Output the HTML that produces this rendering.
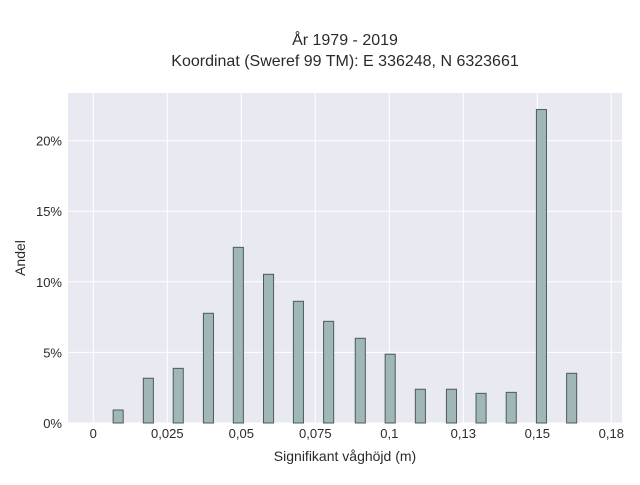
<!DOCTYPE html>
<html><head><meta charset="utf-8"><style>
body{margin:0;background:#fff;width:640px;height:480px;overflow:hidden}
svg text{font-family:"Liberation Sans",sans-serif;fill:#2a2a2a}
</style></head><body>
<svg id="chart" width="640" height="480" xmlns="http://www.w3.org/2000/svg">
<text x="345" y="45" text-anchor="middle" font-size="16">År 1979 - 2019</text>
<text x="345" y="66" text-anchor="middle" font-size="16">Koordinat (Sweref 99 TM): E 336248, N 6323661</text>
<rect x="68" y="93" width="554" height="330" fill="#e9e9f1"/>
<g id="grid"></g><g id="bars"></g><g id="ticks"></g>
<text x="345" y="461" text-anchor="middle" font-size="14">Signifikant våghöjd (m)</text>
<text x="25" y="258" text-anchor="middle" font-size="14" transform="rotate(-90 25 258)">Andel</text>
</svg>
<script>
const binCenters=[0.0084,0.0186,0.0287,0.0389,0.049,0.0592,0.0693,0.0795,0.0902,0.1003,0.1105,0.121,0.131,0.1412,0.1514,0.1616];
const shares=[0.92,3.17,3.87,7.77,12.44,10.53,8.62,7.2,6.0,4.87,2.39,2.39,2.1,2.17,22.2,3.52];
const xTickValues=[0,0.025,0.05,0.075,0.1,0.125,0.15,0.175];
const xTickLabels=["0","0,025","0,05","0,075","0,1","0,13","0,15","0,18"];
const yTickValues=[0,5,10,15,20];
const yTickLabels=["0%","5%","10%","15%","20%"];
const NS="http://www.w3.org/2000/svg";
const x=v=>93.3+v*2960;
const y=v=>423-v*14.12;
const barW=0.0034;
const grid=document.getElementById('grid'),bars=document.getElementById('bars'),ticks=document.getElementById('ticks');
function mk(tag,attrs,parent){const e=document.createElementNS(NS,tag);for(const k in attrs)e.setAttribute(k,attrs[k]);parent.appendChild(e);return e;}
xTickValues.forEach((v,i)=>{
  const l=mk('line',{x1:x(v),x2:x(v),y1:93,y2:423,stroke:'#fff','stroke-width':1},grid);
  
  
  const t=mk('text',{x:x(v),y:438,'text-anchor':'middle','font-size':13},ticks);
  
  
  t.textContent=xTickLabels[i];
});
yTickValues.forEach((v,i)=>{
  const l=mk('line',{x1:68,x2:622,y1:y(v),y2:y(v),stroke:'#fff','stroke-width':1},grid);
  
  
  const t=mk('text',{x:62,y:y(v)+5,'text-anchor':'end','font-size':13},ticks);
  
  
  t.textContent=yTickLabels[i];
});
binCenters.forEach((c,i)=>{
  const x0=x(c-barW/2),x1=x(c+barW/2);
  const r=mk('rect',{x:x0,y:y(shares[i]),width:x1-x0,height:y(0)-y(shares[i]),fill:'#9fb7b7',stroke:'#4f5a5a','stroke-width':1},bars);
  
  
});
</script>
</body></html>
